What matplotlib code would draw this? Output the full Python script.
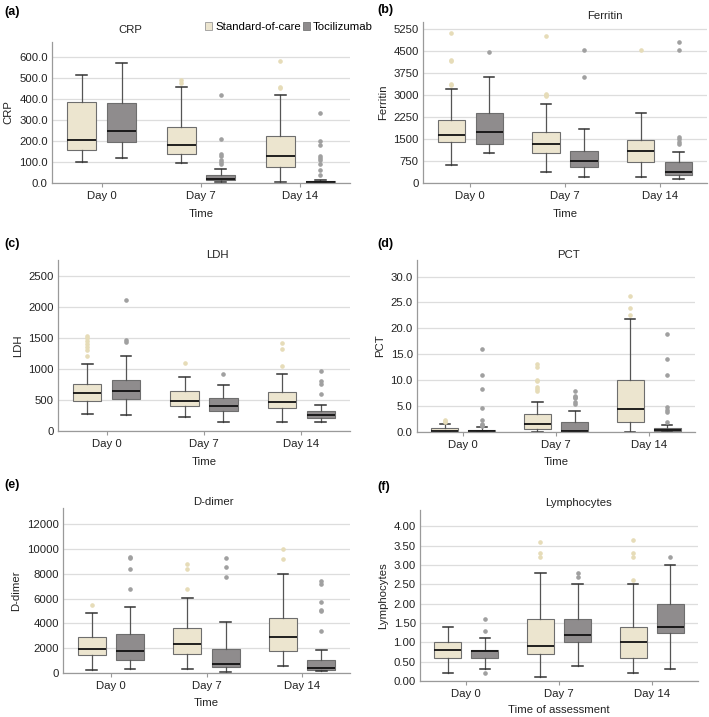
import matplotlib
matplotlib.use('Agg')
import matplotlib.pyplot as plt
from matplotlib.patches import Patch

plt.rcParams['font.family'] = ['Liberation Sans', 'DejaVu Sans']

# Data: per panel, per day -> (whislo, q1, med, q3, whishi, fliers)
days = ['Day 0', 'Day 7', 'Day 14']
groups = ['Standard-of-care', 'Tocilizumab']

crp_soc = [(100, 157, 205, 383, 515, []),
           (97, 138, 182, 265, 457, [475, 490]),
           (5, 78, 128, 222, 420, [450, 455, 578])]
crp_tcz = [(120, 193, 247, 380, 570, []),
           (5, 12, 20, 37, 68, [90, 100, 110, 130, 140, 210, 420]),
           (0, 3, 5, 10, 15, [40, 60, 90, 110, 120, 130, 180, 200, 335])]

fer_soc = [(620, 1400, 1650, 2150, 3220, [3350, 3380, 4150, 4200, 5100]),
           (370, 1030, 1330, 1750, 2680, [2950, 3000, 3050, 5000]),
           (220, 720, 1100, 1470, 2400, [4520])]
fer_tcz = [(1020, 1340, 1750, 2370, 3620, [4480]),
           (200, 540, 740, 1100, 1840, [3600, 4550]),
           (120, 280, 370, 700, 1060, [1320, 1400, 1500, 1580, 4550, 4820])]

ldh_soc = [(280, 475, 605, 755, 1085, [1210, 1300, 1350, 1400, 1450, 1500, 1530]),
           (225, 400, 490, 640, 875, [1100]),
           (150, 365, 465, 620, 920, [1050, 1320, 1420])]
ldh_tcz = [(260, 515, 645, 815, 1210, [1430, 1460, 2100]),
           (150, 315, 400, 530, 740, [910]),
           (150, 210, 250, 320, 420, [600, 750, 800, 970])]

pct_soc = [(0, 0.1, 0.2, 0.7, 1.6, [2.0, 2.2, 2.4]),
           (0, 0.5, 1.6, 3.4, 5.8, [8.0, 8.3, 8.6, 9.8, 10.0, 12.5, 13.2]),
           (0, 2.0, 4.5, 10.1, 21.8, [22.5, 24.0, 26.2])]
pct_tcz = [(0, 0.05, 0.2, 0.4, 0.9, [1.1, 1.3, 1.5, 2.3, 4.7, 8.3, 11.0, 16.0]),
           (0, 0.05, 0.2, 1.9, 4.1, [5.5, 5.7, 6.5, 6.8, 7.0, 8.0]),
           (0, 0.1, 0.3, 0.7, 1.3, [2.0, 3.8, 4.2, 4.8, 11.0, 14.0, 19.0])]

dd_soc = [(250, 1450, 1900, 2900, 4850, [5500]),
          (300, 1550, 2350, 3650, 6050, [6800, 8400, 8750]),
          (600, 1750, 2900, 4450, 8000, [9150, 10000])]
dd_tcz = [(300, 1050, 1750, 3150, 5350, [6800, 8350, 9300, 9350]),
          (100, 450, 750, 1950, 4150, [7700, 8550, 9300]),
          (150, 250, 400, 1050, 1850, [3400, 5000, 5100, 5700, 7200, 7400])]

lym_soc = [(0.2, 0.6, 0.8, 1.0, 1.4, []),
           (0.1, 0.7, 0.9, 1.6, 2.8, [3.2, 3.3, 3.6]),
           (0.2, 0.6, 1.0, 1.4, 2.5, [2.6, 3.2, 3.3, 3.65])]
lym_tcz = [(0.3, 0.6, 0.78, 0.8, 1.1, [0.2, 1.3, 1.6]),
           (0.4, 1.0, 1.2, 1.6, 2.5, [2.7, 2.8]),
           (0.3, 1.25, 1.4, 2.0, 3.0, [3.2])]

soc_color = '#ECE5CF'
tcz_color = '#8F8C8D'
soc_flier = '#E6DCB8'
tcz_flier = '#A0A0A0'

W, H = 709, 717
fig = plt.figure(figsize=(W / 100, H / 100), dpi=100)


def px_axes(left, top, right, bottom):
    return fig.add_axes([left / W, 1 - bottom / H, (right - left) / W, (bottom - top) / H])


def stats(rows):
    return [dict(whislo=r[0], q1=r[1], med=r[2], q3=r[3], whishi=r[4], fliers=r[5]) for r in rows]


panels = [
    # label, title, ylabel, xlabel, soc, tcz, ymax, ticks, fmt, rect, label pos, title pos, xlabel y
    ('(a)', 'CRP', 'CRP', 'Time', crp_soc, crp_tcz, 670, [0, 100, 200, 300, 400, 500, 600], '%.1f',
     (52, 42, 350, 183), (4, 12), (130, 30), 214),
    ('(b)', 'Ferritin', 'Ferritin', 'Time', fer_soc, fer_tcz, 5490, [0, 750, 1500, 2250, 3000, 3750, 4500, 5250], '%d',
     (423, 22, 707, 183), (377, 10), (605, 16), 214),
    ('(c)', 'LDH', 'LDH', 'Time', ldh_soc, ldh_tcz, 2750, [0, 500, 1000, 1500, 2000, 2500], '%d',
     (58, 260, 350, 431), (4, 244), (217, 255), 462),
    ('(d)', 'PCT', 'PCT', 'Time', pct_soc, pct_tcz, 33.2, [0, 5, 10, 15, 20, 25, 30], '%.1f',
     (417, 260, 695, 432), (377, 244), (568, 255), 462),
    ('(e)', 'D-dimer', 'D-dimer', 'Time', dd_soc, dd_tcz, 13300, [0, 2000, 4000, 6000, 8000, 10000, 12000], '%d',
     (63, 508, 350, 673), (4, 485), (213, 502), 703),
    ('(f)', 'Lymphocytes', 'Lymphocytes', 'Time of assessment', lym_soc, lym_tcz, 4.42,
     [0, 0.5, 1.0, 1.5, 2.0, 2.5, 3.0, 3.5, 4.0], '%.2f',
     (420, 510, 698, 681), (377, 487), (578, 503), 710),
]

off = 0.2
bw = 0.29

for (lab, title, ylab, xlab, soc, tcz, ymax, ticks, fmt, rect, lpos, tpos, xly) in panels:
    ax = px_axes(*rect)
    ax.set_axisbelow(True)
    for data, shift, fc, flc in [(soc, -off, soc_color, soc_flier), (tcz, off, tcz_color, tcz_flier)]:
        pos = [i + shift for i in range(len(days))]
        ax.bxp(stats(data), positions=pos, widths=bw, patch_artist=True, capwidths=0.11,
               boxprops=dict(facecolor=fc, edgecolor='#6E6E6E', linewidth=0.8),
               medianprops=dict(color='#111111', linewidth=1.3),
               whiskerprops=dict(color='#555555', linewidth=0.9),
               capprops=dict(color='#333333', linewidth=1.1),
               flierprops=dict(marker='o', markersize=2.3, markerfacecolor=flc,
                               markeredgecolor=flc, linestyle='none'))
    ax.set_xlim(-0.5, 2.5)
    ax.set_ylim(0, ymax)
    ax.set_yticks(ticks)
    ax.set_yticklabels([fmt % t for t in ticks])
    ax.set_xticks(range(len(days)))
    ax.set_xticklabels(days)
    ax.yaxis.grid(True, color='#DDDDDD', linewidth=0.9)
    for s in ['top', 'right']:
        ax.spines[s].set_visible(False)
    for s in ['left', 'bottom']:
        ax.spines[s].set_color('#9A9A9A')
        ax.spines[s].set_linewidth(0.9)
    ax.tick_params(axis='y', length=0, labelsize=8.2, colors='#222222', pad=3)
    ax.tick_params(axis='x', length=3, color='#9A9A9A', labelsize=8.2, labelcolor='#222222', pad=3)
    ax.set_ylabel(ylab, fontsize=8.2, color='#222222', labelpad=4)
    fig.text(lpos[0] / W, 1 - lpos[1] / H, lab, fontsize=9, fontweight='bold', va='center', ha='left')
    fig.text(tpos[0] / W, 1 - tpos[1] / H, title, fontsize=8.2, va='center', ha='center', color='#222222')
    fig.text(((rect[0] + rect[2]) / 2) / W, 1 - xly / H, xlab, fontsize=8.2, va='center', ha='center',
             color='#222222')

handles = [Patch(facecolor=soc_color, edgecolor='#999999', linewidth=0.6),
           Patch(facecolor=tcz_color, edgecolor='#777777', linewidth=0.6)]
fig.legend(handles, groups, loc='center left', bbox_to_anchor=(205 / W, 1 - 27 / H), ncol=2,
           frameon=False, fontsize=8.2, handlelength=0.6, handleheight=0.6, handletextpad=0.3,
           columnspacing=0.15, borderaxespad=0, borderpad=0)

fig.savefig('out.png', dpi=100)
